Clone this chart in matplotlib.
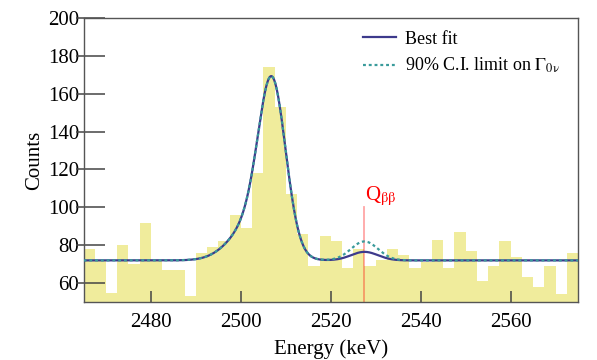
import numpy as np
import matplotlib
matplotlib.use('Agg')
import matplotlib.pyplot as plt

plt.rcParams['font.family'] = ['Liberation Serif', 'DejaVu Serif']
plt.rcParams['mathtext.fontset'] = 'stix'

# histogram: 2.5 keV bins from 2465 to 2575 keV
bin_lo = 2465.0
bin_w = 2.5
counts = [78, 72, 55, 80, 70, 92, 72, 67, 67, 53, 76, 79, 82, 96, 89, 118,
          174, 153, 107, 86, 69, 85, 82, 68, 78, 69, 72, 78, 75, 68, 71, 83,
          68, 87, 77, 61, 69, 82, 74, 63, 58, 69, 54, 76]

# fit parameters
bkg = 72.0
peak_mu, peak_sig, peak_amp = 2507.0, 3.0, 82.5      # 60Co sum peak core
tail_mu, tail_sig, tail_amp = 2503.0, 5.0, 20.0      # broad low-energy part
q_bb = 2527.5
sig_best = 4.5       # best-fit signal height at Q_bb
sig_limit = 10.0     # 90% C.I. signal height at Q_bb

xmin, xmax = 2465, 2575
ymin, ymax = 50, 200

edges = bin_lo + bin_w * np.arange(len(counts) + 1)
centers = 0.5 * (edges[:-1] + edges[1:])

def gaus(x, mu, s):
    return np.exp(-0.5 * ((x - mu) / s) ** 2)

def model(x, sig):
    return (bkg + peak_amp * gaus(x, peak_mu, peak_sig)
            + tail_amp * gaus(x, tail_mu, tail_sig)
            + sig * gaus(x, q_bb, peak_sig))

fig = plt.figure(figsize=(5.97, 3.6), dpi=100)
ax = fig.add_axes([0.1399, 0.161, 0.8283, 0.789])

ax.hist(centers, bins=edges, weights=counts, color='#f0ec9c', zorder=1)

E = np.linspace(xmin, xmax, 1200)
ax.plot(E, model(E, sig_best), color='#3d3a8c', lw=1.6, zorder=3, label='Best fit')
ax.plot(E, model(E, sig_limit), color='#3a9b9b', lw=1.6, ls=(0, (1.3, 1.3)), zorder=4,
        label=r'90% C.I. limit on $\Gamma_{\mathrm{0ν}}$')

ax.plot([q_bb, q_bb], [ymin, 100], color='red', alpha=0.35, lw=1.3, zorder=2)
ax.text(q_bb + 0.1, 103.5, r'Q$_{\mathrm{\beta\beta}}$', color='red', fontsize=15,
        ha='left', va='baseline')

ax.set_xlim(xmin, xmax)
ax.set_ylim(ymin, ymax)
ax.set_xticks(np.arange(2480, 2561, 20))
ax.set_yticks(np.arange(60, 201, 20))
ax.set_xlabel('Energy (keV)', fontsize=15, labelpad=5)
ax.set_ylabel('Counts', fontsize=15, labelpad=3)

for sp in ax.spines.values():
    sp.set_color('#555555')
    sp.set_linewidth(1.0)
ax.tick_params(axis='x', direction='in', length=8, width=1.1, color='#444444',
               labelsize=15, pad=8, top=False)
ax.tick_params(axis='y', direction='in', length=15, width=1.1, color='#444444',
               labelsize=15, pad=3, right=False)
# short outer part of the y ticks
ax.yaxis.remove_overlapping_locs = False
ax.set_yticks(np.arange(60, 201, 20), minor=True)
ax.tick_params(axis='y', which='minor', direction='out', length=6, width=1.1,
               color='#444444')

ax.legend(loc='upper left', bbox_to_anchor=(0.565, 0.955), frameon=False, fontsize=13,
          borderaxespad=0, borderpad=0, handlelength=1.85, handletextpad=0.5,
          labelspacing=0.45)

plt.savefig('out.png', dpi=100)
